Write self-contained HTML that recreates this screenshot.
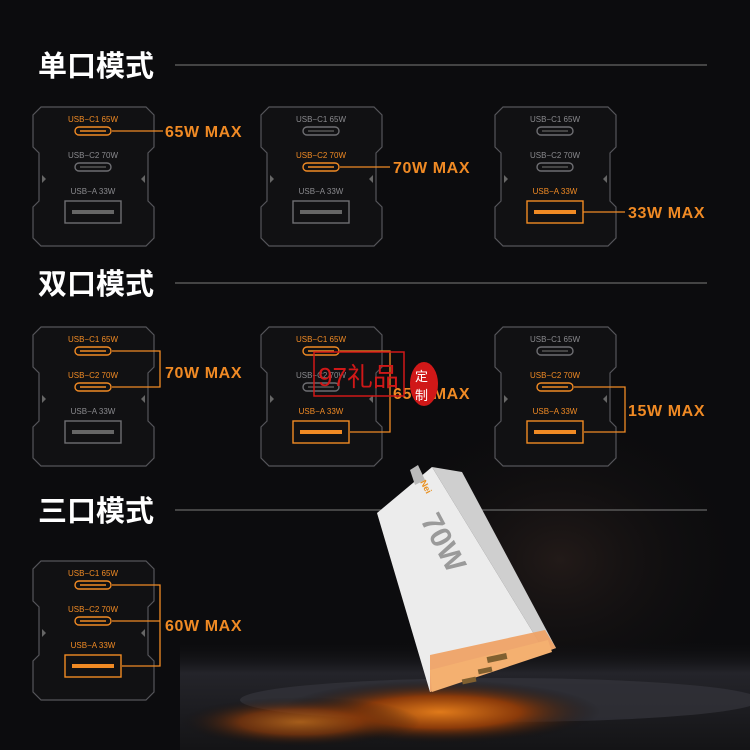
<!DOCTYPE html>
<html><head><meta charset="utf-8"><style>
html,body{margin:0;padding:0;background:#0c0c0e;}
svg{display:block}
text{font-family:"Liberation Sans","Noto Sans CJK SC",sans-serif}
</style></head><body>
<svg id="s" width="750" height="750" viewBox="0 0 750 750" xmlns="http://www.w3.org/2000/svg">
<defs>
<radialGradient id="lava" cx="0.5" cy="0.5" r="0.5">
<stop offset="0" stop-color="#e07a1a"/><stop offset="0.5" stop-color="#8a3a0a"/><stop offset="1" stop-color="#0c0c0e" stop-opacity="0"/>
</radialGradient>
<radialGradient id="smoke" cx="0.5" cy="0.5" r="0.5">
<stop offset="0" stop-color="#221a18"/><stop offset="1" stop-color="#0c0c0e" stop-opacity="0"/>
</radialGradient>
<linearGradient id="gr" x1="0" y1="0" x2="0" y2="1">
<stop offset="0" stop-color="#0c0c0e" stop-opacity="0"/><stop offset="0.3" stop-color="#24242a"/><stop offset="1" stop-color="#141416"/>
</linearGradient>
</defs>
<rect width="750" height="750" fill="#0c0c0e"/>
<ellipse cx="560" cy="560" rx="200" ry="160" fill="url(#smoke)"/>
<rect x="180" y="640" width="570" height="110" fill="url(#gr)"/>
<ellipse cx="500" cy="700" rx="260" ry="22" fill="#34343c" opacity="0.7"/>
<ellipse cx="440" cy="712" rx="160" ry="32" fill="url(#lava)"/>
<ellipse cx="300" cy="722" rx="120" ry="25" fill="url(#lava)" opacity="0.7"/>
<g id="g"></g>
<!-- charger -->
<polygon points="432,467 462,472 556,648 545,652" fill="#cfcfcf"/>
<polygon points="377,513 432,467 545,652 430,692" fill="#ececec"/>
<polygon points="430,655 545,630 556,648 545,652 430,692" fill="#f0a060" opacity="0.9"/>
<polygon points="430,670 548,640 552,652 432,692" fill="#f4b070"/>
<rect x="487" y="655" width="20" height="6" fill="#806030" transform="rotate(-12 497 658)"/>
<rect x="478" y="668" width="14" height="5" fill="#806030" transform="rotate(-12 485 670)"/>
<rect x="462" y="678" width="14" height="5" fill="#806030" transform="rotate(-12 469 680)"/>
<polygon points="410,470 418,465 425,480 415,485" fill="#bbb"/>
<text x="0" y="0" font-size="30" font-weight="bold" fill="#9a9a9a" transform="translate(420,520) rotate(62)">70W</text>
<text x="0" y="0" font-size="9" font-weight="bold" fill="#e89020" transform="translate(420,482) rotate(62)">Nei</text>
<!-- watermark -->
<rect x="314" y="352" width="90" height="44" fill="none" stroke="#d01818" stroke-width="1.5"/>
<text x="318" y="386" font-size="26" fill="#d01818">97礼品</text>
<ellipse cx="424" cy="384" rx="14" ry="22" fill="#d01818"/>
<text x="415" y="381" font-size="13" fill="#fff">定</text>
<text x="415" y="400" font-size="13" fill="#fff">制</text>
</svg>
<script>
var g=document.getElementById('g'),h='';
var O='#f08a24',GR='#6e6e72',TL='#8a8a8e';
function T(x,y,s,c,t,w,a,ls){h+='<text x="'+x+'" y="'+y+'" font-size="'+s+'" fill="'+c+'"'+(w?' font-weight="bold"':'')+(a?' text-anchor="'+a+'"':'')+(ls?' letter-spacing="'+ls+'"':'')+'>'+t+'</text>';}
function L(p,c){h+='<polyline points="'+p+'" fill="none" stroke="'+(c||O)+'" stroke-width="1.3"/>';}
function title(y,t){T(38,y+11,29,'#fff',t,1);L('175,'+y+' 707,'+y,'#666');}
title(65,'单口模式');title(283,'双口模式');title(510,'三口模式');
function panel(x,y,act){
 var w=121,hh=139;
 h+='<path d="M'+(x+8)+','+y+' L'+(x+w-8)+','+y+' L'+(x+w)+','+(y+8)+' L'+(x+w)+','+(y+40)+' L'+(x+w-6)+','+(y+46)+' L'+(x+w-6)+','+(y+94)+' L'+(x+w)+','+(y+100)+' L'+(x+w)+','+(y+hh-8)+' L'+(x+w-8)+','+(y+hh)+' L'+(x+8)+','+(y+hh)+' L'+x+','+(y+hh-8)+' L'+x+','+(y+100)+' L'+(x+6)+','+(y+94)+' L'+(x+6)+','+(y+46)+' L'+x+','+(y+40)+' L'+x+','+(y+8)+' Z" fill="#111113" stroke="#55555a" stroke-width="1.2"/>';
 var labs=['USB−C1 65W','USB−C2 70W','USB−A 33W'];
 [0,1].forEach(function(i){var a=act[i],cy=y+24+i*36;
  T(x+60,cy-9,8,a?O:TL,labs[i],0,'middle');
  h+='<rect x="'+(x+42)+'" y="'+(cy-4)+'" width="36" height="8" rx="4" fill="none" stroke="'+(a?O:GR)+'" stroke-width="1.4"/>';
  h+='<line x1="'+(x+47)+'" y1="'+cy+'" x2="'+(x+73)+'" y2="'+cy+'" stroke="'+(a?O:'#555')+'" stroke-width="1.5"/>';});
 var a=act[2];T(x+60,y+87,8,a?O:TL,labs[2],0,'middle');
 h+='<rect x="'+(x+32)+'" y="'+(y+94)+'" width="56" height="22" fill="none" stroke="'+(a?O:GR)+'" stroke-width="1.4"/>';
 h+='<rect x="'+(x+39)+'" y="'+(y+103)+'" width="42" height="4" fill="'+(a?O:'#666')+'"/>';
 h+='<polygon points="'+(x+9)+','+(y+68)+' '+(x+13)+','+(y+72)+' '+(x+9)+','+(y+76)+'" fill="#666"/>';
 h+='<polygon points="'+(x+w-9)+','+(y+68)+' '+(x+w-13)+','+(y+72)+' '+(x+w-9)+','+(y+76)+'" fill="#666"/>';
}
function mx(x,y,t){T(x,y+6,16,O,t,1,0,'0.6');}
panel(33,107,[1,0,0]);L('112,131 163,131');mx(165,131,'65W MAX');
panel(261,107,[0,1,0]);L('340,167 390,167');mx(393,167,'70W MAX');
panel(495,107,[0,0,1]);L('583,212 625,212');mx(628,212,'33W MAX');
panel(33,327,[1,1,0]);L('112,351 160,351 160,387 112,387');mx(165,372,'70W MAX');
panel(261,327,[1,0,1]);L('340,351 390,351 390,432 350,432');mx(393,393,'65W MAX');
panel(495,327,[0,1,1]);L('574,387 625,387 625,432 584,432');mx(628,410,'15W MAX');
panel(33,561,[1,1,1]);L('112,585 160,585 160,666 122,666');L('112,621 160,621');mx(165,625,'60W MAX');
g.innerHTML=h;
</script>
</body></html>
